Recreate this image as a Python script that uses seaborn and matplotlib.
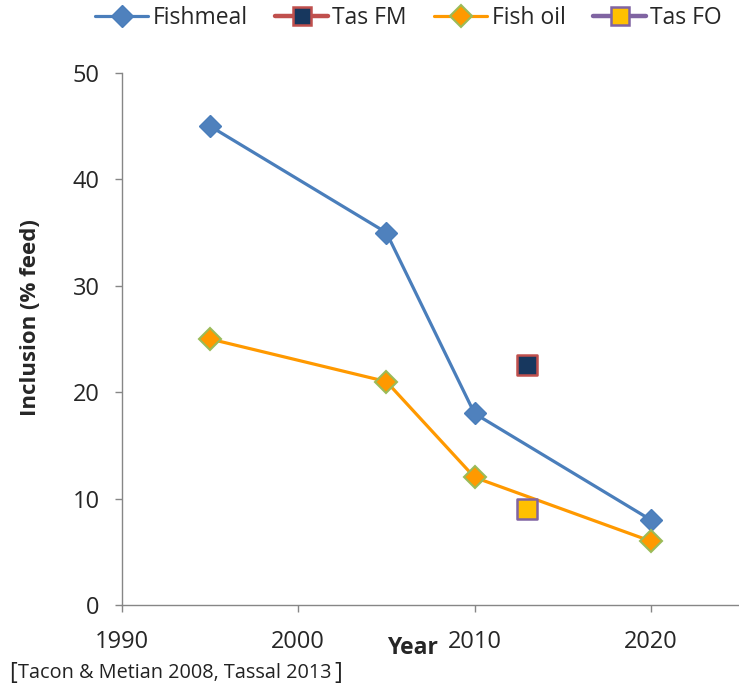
import matplotlib
matplotlib.use("Agg")
import matplotlib.pyplot as plt
from matplotlib.lines import Line2D
import seaborn as sns
import pandas as pd

# Feed inclusion data
years = [1995, 2005, 2010, 2020]
fishmeal = [45, 35, 18, 8]
fish_oil = [25, 21, 12, 6]
tas_year = [2013]
tas_fm = [22.6]
tas_fo = [9.0]

sns.set_theme(style="white")
plt.rcParams["font.family"] = ["Open Sans", "DejaVu Sans"]

fig = plt.figure(figsize=(7.39, 6.88), dpi=100)
ax = fig.add_axes([0.165, 0.1206, 0.835, 0.7733])

df = pd.DataFrame({"Year": years, "Fishmeal": fishmeal, "Fish oil": fish_oil})

fm_line = "#4A7EBB"
fo_line = "#FF9900"

sns.lineplot(data=df, x="Year", y="Fishmeal", ax=ax, color=fm_line, lw=2.3,
             marker="D", markersize=11, markerfacecolor="#4F81BD",
             markeredgecolor="#4A7EBB", markeredgewidth=1, zorder=3)
sns.lineplot(data=df, x="Year", y="Fish oil", ax=ax, color=fo_line, lw=2.3,
             marker="D", markersize=11, markerfacecolor="#FF9900",
             markeredgecolor="#9BBB59", markeredgewidth=1.5, zorder=3)
sns.scatterplot(x=tas_year, y=tas_fm, ax=ax, marker="s", s=190,
                color="#17375E", edgecolor="#C0504D", linewidth=1.8, zorder=4)
sns.scatterplot(x=tas_year, y=tas_fo, ax=ax, marker="s", s=190,
                color="#FFC000", edgecolor="#8064A2", linewidth=1.8, zorder=4)

ax.set_xlim(1990, 2025)
ax.set_ylim(0, 50)
ax.set_xticks([1990, 2000, 2010, 2020])
ax.set_yticks([0, 10, 20, 30, 40, 50])
ax.tick_params(axis="both", labelsize=17, length=5, width=1, color="#868686",
               direction="out", left=True, bottom=True)
ax.tick_params(axis="y", pad=11)
ax.tick_params(axis="x", pad=13)
for side in ["top", "right"]:
    ax.spines[side].set_visible(False)
for side in ["left", "bottom"]:
    ax.spines[side].set_color("#868686")
    ax.spines[side].set_linewidth(1)

ax.set_xlabel("")
ax.set_ylabel("Inclusion (% feed)", fontsize=16, fontweight="bold", va="center")
ax.yaxis.set_label_coords(-0.1475, 0.54)
fig.text(412 / 739, 1 - 648 / 688, "Year", fontsize=16.5, fontweight="bold",
         ha="center", va="center")

# Source note with tall brackets
note_y = 1 - 673 / 688
fig.text(9 / 739, note_y, "[", fontsize=17, ha="left", va="center", color="#222222")
fig.text(18 / 739, note_y, "Tacon & Metian 2008, Tassal 2013",
         fontsize=14.3, ha="left", va="center", color="#222222")
fig.text(334 / 739, note_y, "]", fontsize=17, ha="left", va="center", color="#222222")

handles = [
    Line2D([], [], color=fm_line, lw=2.3, marker="D", markersize=11,
           markerfacecolor="#4F81BD", markeredgecolor="#4A7EBB"),
    Line2D([], [], color="#C0504D", lw=3.2, marker="s", markersize=13,
           markerfacecolor="#17375E", markeredgecolor="#C0504D", markeredgewidth=1.8),
    Line2D([], [], color=fo_line, lw=2.3, marker="D", markersize=11,
           markerfacecolor="#FF9900", markeredgecolor="#9BBB59", markeredgewidth=1.5),
    Line2D([], [], color="#8064A2", lw=3.2, marker="s", markersize=13,
           markerfacecolor="#FFC000", markeredgecolor="#8064A2", markeredgewidth=1.8),
]
labels = ["Fishmeal", "Tas FM", "Fish oil", "Tas FO"]
fig.legend(handles, labels, loc="center", bbox_to_anchor=(0.553, 1 - 18 / 688),
           ncol=4, frameon=False, fontsize=16.5, handlelength=2.3,
           handletextpad=0.2, columnspacing=1.2)

fig.savefig("out.png", dpi=100)
